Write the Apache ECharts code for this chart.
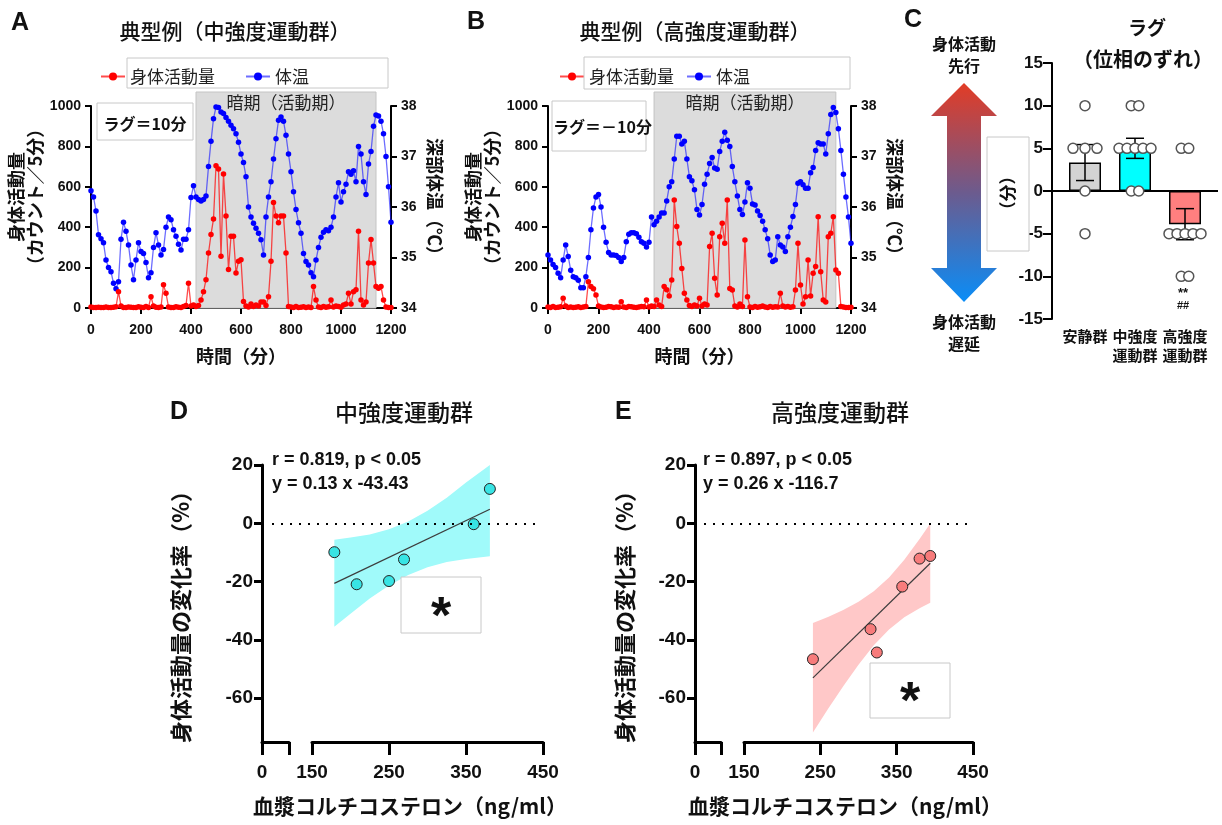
<!DOCTYPE html>
<html>
<head>
<meta charset="utf-8">
<script src="https://cdn.jsdelivr.net/npm/echarts@6/dist/echarts.min.js"></script>
<style>
html, body { margin: 0; padding: 0; background: #fff; }
#chart { width: 1222px; height: 825px; }
</style>
</head>
<body>
<div id="chart"></div>
<script>
// sampling grid of the activity / temperature recordings (minutes)
const timeMin = Array.from({ length: 121 }, (_, i) => i * 10)

// panel A: moderate-intensity example
const actA = [
  5, 3, 2, 4, 3, 2, 5, 3, 2, 4,
  6, 80, 10, 3, 2, 5, 4, 2, 3, 6,
  4, 2, 8, 3, 56, 10, 4, 2, 5, 115,
  73, 5, 3, 2, 6, 4, 3, 8, 12, 123,
  10, 15, 8, 12, 40, 80, 140, 272, 364, 440,
  704, 688, 256, 663, 455, 190, 355, 355, 173, 231,
  239, 32, 10, 5, 20, 8, 15, 10, 30, 30,
  12, 56, 231, 522, 455, 422, 455, 455, 272, 7,
  5, 3, 8, 2, 4, 6, 3, 5, 2, 106,
  40, 5, 3, 8, 4, 6, 40, 5, 10, 8,
  4, 15, 20, 73, 20, 81, 90, 380, 40, 15,
  30, 223, 339, 223, 106, 98, 106, 40, 5, 3, 2
]
const tempA = [
  36.32, 36.2, 35.92, 35.45, 35.37, 35.29, 34.95, 34.8, 34.72, 34.49,
  34.38, 34.52, 35.36, 35.7, 35.52, 35.25, 34.85, 34.56, 34.95, 35.29,
  35.12, 35.08, 34.9, 34.6, 34.7, 35.2, 35.49, 35.25, 35.05, 35.16,
  35.6, 35.8, 35.75, 35.55, 35.42, 35.26, 35.15, 35.36, 35.36, 35.55,
  36.19, 36.42, 36.2, 36.15, 36.12, 36.15, 36.22, 36.8, 37.3, 37.75,
  37.98, 37.97, 37.88, 37.85, 37.77, 37.7, 37.62, 37.55, 37.45, 37.28,
  37.05, 36.88, 36.6, 36.0, 35.8, 35.68, 35.58, 35.48, 35.35, 35.05,
  35.8, 36.2, 36.5, 36.95, 37.35, 37.72, 37.78, 37.7, 37.42, 37.05,
  36.7, 36.3, 35.95, 35.69, 35.48, 35.08, 34.92, 34.85, 34.7, 34.62,
  34.95, 35.2, 35.4, 35.5, 35.55, 35.53, 35.6, 35.8, 36.2, 36.48,
  36.1, 36.3, 36.45, 36.7, 36.65, 36.72, 36.5, 37.2, 37.05, 36.5,
  36.25, 36.85, 37.1, 37.6, 37.82, 37.8, 37.7, 37.45, 37.0, 36.4, 35.7
]

// panel B: high-intensity example
const actB = [
  5, 3, 8, 2, 4, 6, 48, 10, 3, 5,
  2, 4, 6, 3, 5, 8, 130, 106, 95, 64,
  10, 5, 3, 4, 8, 6, 3, 5, 4, 31,
  5, 3, 8, 6, 4, 3, 5, 8, 6, 40,
  5, 10, 8, 40, 15, 8, 106, 90, 60, 139,
  535, 403, 320, 196, 73, 40, 12, 8, 15, 10,
  48, 10, 20, 15, 304, 370, 147, 64, 353, 419,
  320, 535, 97, 89, 10, 5, 20, 8, 337, 56,
  5, 3, 8, 4, 6, 10, 5, 3, 8, 4,
  6, 5, 73, 10, 5, 8, 4, 6, 89, 320,
  114, 20, 56, 238, 60, 172, 205, 452, 180, 40,
  30, 353, 370, 452, 188, 172, 7, 5, 3, 2, 4
]
const tempB = [
  35.05, 34.95, 34.86, 34.8, 34.69, 34.6, 34.95, 35.25, 35.02, 34.75,
  34.62, 34.6, 34.55, 34.4, 34.4, 34.62, 35.0, 35.55, 35.98, 36.2,
  36.25, 36.0, 35.6, 35.3, 35.1, 35.05, 35.05, 35.04, 35.0, 34.92,
  35.0, 35.31, 35.46, 35.49, 35.49, 35.47, 35.4, 35.31, 35.28, 35.21,
  35.3, 35.8, 35.65, 35.72, 35.8, 35.88, 35.88, 36.12, 36.4, 36.5,
  36.95, 37.4, 37.4, 37.25, 37.3, 36.95, 36.6, 36.52, 36.34, 35.95,
  35.84, 36.05, 36.45, 36.65, 36.86, 36.98, 36.77, 36.75, 37.1, 37.3,
  37.48, 37.32, 37.2, 36.8, 36.5, 36.22, 35.95, 35.85, 36.1, 36.48,
  36.37, 36.06, 36.04, 35.92, 35.83, 35.72, 35.55, 35.37, 35.05, 34.92,
  34.95, 35.41, 35.25, 35.21, 35.12, 35.41, 35.6, 35.81, 36.05, 36.47,
  36.5, 36.44, 36.37, 36.37, 36.68, 36.78, 37.12, 37.27, 37.25, 37.25,
  37.05, 37.45, 37.83, 37.97, 37.87, 37.55, 37.12, 36.65, 36.2, 35.8, 35.28
]
const darkPhase = [420, 1140]

// panel C: lag per animal (minutes)
const lagGroups = ['安静群', '中強度\n運動群', '高強度\n運動群']
const lagRest = [10, 5, 5, 5, 0, -5]
const lagMid = [10, 10, 5, 5, 5, 5, 5, 0, 0]
const lagHigh = [5, 5, -5, -5, -5, -5, -5, -10, -10]
const lagColors = ['#d3d3d3', '#00ffff', '#ff7f7f']

// panels D / E: corticosterone vs change in activity
const cortMid = [179, 208, 250, 269.5, 360, 381]
const chgMid = [-9.9, -20.9, -19.8, -12.4, -0.3, 11.8]
const fitMidX = [179, 381]
const fitMidY = [-20.6, 4.8]
const bandMidX = [179, 200, 225, 250, 275, 300, 325, 350, 381]
const bandMidLo = [-35.5, -31.0, -25.8, -21.3, -17.7, -15.1, -13.3, -12.2, -11.3]
const bandMidHi = [-5.6, -4.9, -3.8, -2.0, 0.6, 4.3, 8.8, 14.0, 20]

const cortHigh = [240.3, 315.8, 324, 357.3, 380, 394]
const chgHigh = [-46.6, -36.3, -44.3, -21.7, -12.1, -11.2]
const fitHighX = [240.3, 394]
const fitHighY = [-53.0, -13.7]
const bandHighX = [240.3, 260, 280, 300, 320, 340, 360, 380, 394]
const bandHighLo = [-71.7, -63.7, -55.9, -48.5, -41.8, -36.4, -32.2, -29.1, -27.2]
const bandHighHi = [-34.2, -32.1, -29.7, -26.9, -23.3, -18.6, -12.5, -5.4, -0.1]

const NUM = '"Liberation Sans", "Noto Sans CJK JP", sans-serif'
const JP = '"Noto Sans CJK JP", sans-serif'

function meanSem (v) {
  const n = v.length
  const m = v.reduce((a, b) => a + b, 0) / n
  const sd = Math.sqrt(v.reduce((a, b) => a + (b - m) * (b - m), 0) / (n - 1))
  return [m, sd / Math.sqrt(n)]
}

// spread identical values side by side
function swarm (values, group) {
  const counts = {}
  values.forEach(v => { counts[v] = (counts[v] || 0) + 1 })
  const seen = {}
  return values.map(v => {
    const n = counts[v]
    const k = seen[v] || 0
    seen[v] = k + 1
    const step = n >= 5 ? 0.16 : n === 3 ? 0.24 : 0.15
    return [group + (k - (n - 1) / 2) * step, v]
  })
}

const lagStats = [lagRest, lagMid, lagHigh].map(meanSem)
const lagDots = [].concat(swarm(lagRest, 0), swarm(lagMid, 1), swarm(lagHigh, 2))

const blk = '#000'
const plain = v => String(v)
function lineAxis (w) {
  return { show: true, onZero: false, lineStyle: { color: blk, width: w } }
}
function tick (len, w, extra) {
  return Object.assign({ show: true, length: len, lineStyle: { color: blk, width: w } }, extra || {})
}
function lbl (size, margin, extra) {
  return Object.assign({ fontSize: size, fontWeight: 'bold', color: '#111', fontFamily: NUM, margin: margin, formatter: plain }, extra || {})
}
function nameStyle (size, extra) {
  return Object.assign({ fontSize: size, fontWeight: 'bold', color: '#111', fontFamily: JP }, extra || {})
}

function timeAxis (grid) {
  return {
    gridIndex: grid, type: 'value', min: 0, max: 1200, interval: 200,
    axisLine: lineAxis(2), axisTick: tick(6, 2), axisLabel: lbl(14, 15), splitLine: { show: false },
    name: '時間（分）', nameLocation: 'middle', nameGap: 39, nameTextStyle: nameStyle(18)
  }
}
function actAxis (grid) {
  return {
    gridIndex: grid, type: 'value', min: 0, max: 1000, interval: 200, position: 'left',
    axisLine: lineAxis(2), axisTick: tick(6, 2), axisLabel: lbl(14, 10), splitLine: { show: false },
    name: '身体活動量\n（カウント／5分）', nameLocation: 'middle', nameRotate: 90, nameGap: 46,
    nameTextStyle: nameStyle(18, { lineHeight: 19, padding: [0, 0, 0, 20] })
  }
}
function tempAxis (grid) {
  return {
    gridIndex: grid, type: 'value', min: 34, max: 38, interval: 1, position: 'right',
    axisLine: lineAxis(2), axisTick: tick(6, 2), axisLabel: lbl(14, 10), splitLine: { show: false },
    name: '深部体温（℃）', nameLocation: 'middle', nameRotate: -90, nameGap: 35,
    nameTextStyle: nameStyle(18, { padding: [0, 12, 0, 0] })
  }
}

function traceSeries (name, values, xi, yi, color, lineColor, withShade) {
  const s = {
    type: 'line', name: name, xAxisIndex: xi, yAxisIndex: yi,
    data: timeMin.map((t, i) => [t, values[i]]),
    symbol: 'circle', symbolSize: 5.5,
    itemStyle: { color: color },
    lineStyle: { color: lineColor, width: 1.3 },
    z: name === '身体活動量' ? 4 : 3
  }
  if (withShade) {
    s.markArea = {
      silent: true,
      itemStyle: { color: '#dcdcdc', borderColor: '#c4c4c4', borderWidth: 1 },
      label: { show: true, position: 'insideTop', distance: 3, color: '#222', fontSize: 17, fontFamily: JP },
      data: [[{ name: '暗期（活動期）', xAxis: darkPhase[0], y: 92 }, { xAxis: darkPhase[1], yAxis: 34 }]]
    }
  }
  return s
}

function bandSeries (xs, lo, hi, color, xi, yi) {
  return {
    type: 'custom', xAxisIndex: xi, yAxisIndex: yi, silent: true, z: 1,
    data: xs.map((x, i) => [x, lo[i], hi[i]]),
    encode: { x: 0, y: [1, 2] },
    renderItem: (params, api) => {
      if (params.dataIndex !== 0) return null
      const pts = []
      xs.forEach((x, i) => pts.push(api.coord([x, hi[i]])))
      for (let i = xs.length - 1; i >= 0; i--) pts.push(api.coord([xs[i], lo[i]]))
      return { type: 'polygon', shape: { points: pts }, style: { fill: color } }
    }
  }
}

function corrAxes (g0, g1, nameShift) {
  const yTicks = [-60, -40, -20, 0, 20]
  return {
    x: [
      {
        gridIndex: g0, type: 'value', min: 0, max: 35,
        axisLine: lineAxis(3), axisTick: tick(13, 3, { customValues: [0, 35] }),
        axisLabel: lbl(19, 21, { customValues: [0] }), splitLine: { show: false }
      },
      {
        gridIndex: g1, type: 'value', min: 150, max: 450, interval: 100,
        axisLine: lineAxis(3), axisTick: tick(13, 3), axisLabel: lbl(19, 21), splitLine: { show: false },
        name: '血漿コルチコステロン（ng/ml）', nameLocation: 'middle', nameGap: 54,
        nameTextStyle: nameStyle(21, { padding: [0, nameShift, 0, 0] })
      }
    ],
    y: [
      {
        gridIndex: g0, type: 'value', min: -75, max: 20,
        axisLine: lineAxis(3), axisTick: tick(8, 3, { customValues: yTicks }),
        axisLabel: lbl(19, 9, { customValues: yTicks }), splitLine: { show: false },
        name: '身体活動量の変化率（%）', nameLocation: 'middle', nameRotate: 90, nameGap: 0,
        nameTextStyle: nameStyle(22, { padding: [0, 16, 0, 0] })
      },
      { gridIndex: g1, type: 'value', min: -75, max: 20, show: false }
    ]
  }
}
const axD = corrAxes(3, 4, 35)
const axE = corrAxes(5, 6, 27)
axD.y[0].nameGap = 70
axE.y[0].nameGap = 59

function corrSeries (xs, ys, fx, fy, bx, blo, bhi, bandColor, dotColor, xi, yi, zeroFrom, zeroTo) {
  return [
    bandSeries(bx, blo, bhi, bandColor, xi, yi),
    {
      type: 'line', xAxisIndex: xi, yAxisIndex: yi, silent: true, z: 2,
      data: fx.map((x, i) => [x, fy[i]]), symbol: 'none',
      lineStyle: { color: '#3c3c3c', width: 1.2 }
    },
    {
      type: 'scatter', xAxisIndex: xi, yAxisIndex: yi, z: 4,
      data: xs.map((x, i) => [x, ys[i]]), symbolSize: 11,
      itemStyle: { color: dotColor, borderColor: '#222', borderWidth: 1, opacity: 1 },
      markLine: {
        silent: true, symbol: 'none', label: { show: false },
        lineStyle: { color: blk, width: 2, type: [2, 7] },
        data: [[{ x: zeroFrom, yAxis: 0 }, { x: zeroTo, yAxis: 0 }]]
      }
    }
  ]
}

const txt = (text, x, y, size, opt) => Object.assign({
  type: 'text', x: x, y: y, z: 100,
  style: Object.assign({
    text: text, fill: '#111', fontSize: size, fontFamily: JP,
    align: 'center', verticalAlign: 'middle', textAlign: 'center', textVerticalAlign: 'middle'
  }, (opt && opt.style) || {})
}, (opt && opt.el) || {})
const box = (x, y, w, h, fill) => ({
  type: 'rect', z: 99, shape: { x: x, y: y, width: w, height: h },
  style: { fill: fill || 'none', stroke: '#c8c8c8', lineWidth: 1 }
})
const bold = { style: { fontWeight: 'bold' } }
const medium = { style: { fontWeight: 500 } }
const letter = (t, x, y) => txt(t, x, y, 25, { style: { fontWeight: 'bold', fontFamily: NUM, align: 'left', textAlign: 'left' } })
const statTxt = (t, x, y) => txt(t, x, y, 18, { style: { fontWeight: 'bold', fontFamily: NUM, align: 'left', textAlign: 'left' } })

const option = {
  animation: false,
  textStyle: { fontFamily: NUM },
  grid: [
    { left: 91, top: 106, width: 300, height: 202 },
    { left: 548, top: 106, width: 303, height: 202 },
    { left: 1060, top: 63, width: 150, height: 256 },
    { left: 262, top: 465, width: 27, height: 277 },
    { left: 312, top: 465, width: 231, height: 277 },
    { left: 695, top: 465, width: 26, height: 277 },
    { left: 744, top: 465, width: 229, height: 277 }
  ],
  legend: [
    {
      left: 95, top: 63, itemWidth: 24, itemHeight: 10, itemGap: 30, selectedMode: false,
      data: ['身体活動量', '体温'], textStyle: { fontSize: 17, color: '#222', fontFamily: JP }
    },
    {
      left: 554, top: 63, itemWidth: 24, itemHeight: 10, itemGap: 12, selectedMode: false,
      data: ['身体活動量', '体温'], textStyle: { fontSize: 17, color: '#222', fontFamily: JP }
    }
  ],
  xAxis: [
    timeAxis(0),
    timeAxis(1),
    {
      gridIndex: 2, type: 'category', data: lagGroups,
      axisLine: { show: false, onZero: false }, axisTick: { show: false },
      axisLabel: { fontSize: 15, fontWeight: 'bold', color: '#111', fontFamily: JP, margin: 8, lineHeight: 19, interval: 0 }
    },
    { gridIndex: 2, type: 'value', min: -0.5, max: 2.5, show: false },
    axD.x[0], axD.x[1], axE.x[0], axE.x[1]
  ],
  yAxis: [
    actAxis(0), tempAxis(0), actAxis(1), tempAxis(1),
    {
      gridIndex: 2, type: 'value', min: -15, max: 15, interval: 5, offset: 8,
      axisLine: lineAxis(2), axisTick: tick(9, 2), axisLabel: lbl(17, 9), splitLine: { show: false }
    },
    axD.y[0], axD.y[1], axE.y[0], axE.y[1]
  ],
  series: [
    traceSeries('体温', tempA, 0, 1, '#0000ff', 'rgba(30,30,255,0.65)', true),
    traceSeries('身体活動量', actA, 0, 0, '#ff0000', 'rgba(255,0,0,0.7)', false),
    traceSeries('体温', tempB, 1, 3, '#0000ff', 'rgba(30,30,255,0.65)', true),
    traceSeries('身体活動量', actB, 1, 2, '#ff0000', 'rgba(255,0,0,0.7)', false),
    {
      type: 'bar', xAxisIndex: 2, yAxisIndex: 4, barWidth: 32, z: 2,
      data: lagStats.map((s, i) => ({ value: s[0], itemStyle: { color: lagColors[i] } })),
      itemStyle: { borderColor: blk, borderWidth: 1.5 }
    },
    {
      type: 'custom', xAxisIndex: 3, yAxisIndex: 4, z: 3,
      data: lagStats.map((s, i) => [i, s[0] - s[1], s[0] + s[1]]),
      encode: { x: 0, y: [1, 2] },
      renderItem: (params, api) => {
        const x = api.value(0)
        const pLo = api.coord([x, api.value(1)])
        const pHi = api.coord([x, api.value(2)])
        const st = { stroke: blk, lineWidth: 1.5 }
        const cap = 9
        return {
          type: 'group',
          children: [
            { type: 'line', shape: { x1: pLo[0], y1: pLo[1], x2: pHi[0], y2: pHi[1] }, style: st },
            { type: 'line', shape: { x1: pLo[0] - cap, y1: pLo[1], x2: pLo[0] + cap, y2: pLo[1] }, style: st },
            { type: 'line', shape: { x1: pHi[0] - cap, y1: pHi[1], x2: pHi[0] + cap, y2: pHi[1] }, style: st }
          ]
        }
      }
    },
    {
      type: 'scatter', xAxisIndex: 3, yAxisIndex: 4, z: 5, data: lagDots, symbolSize: 10,
      itemStyle: { color: '#fff', borderColor: '#555', borderWidth: 1.5, opacity: 1 },
      markLine: {
        silent: true, symbol: 'none', label: { show: false },
        lineStyle: { color: blk, width: 2, type: 'solid' },
        data: [[{ x: 1052, yAxis: 0 }, { x: 1218, yAxis: 0 }]]
      }
    }
  ]
    .concat(corrSeries(cortMid, chgMid, fitMidX, fitMidY, bandMidX, bandMidLo, bandMidHi, '#a0fafa', '#38e4e4', 5, 6, 272, 541))
    .concat(corrSeries(cortHigh, chgHigh, fitHighX, fitHighY, bandHighX, bandHighLo, bandHighHi, '#ffc8c8', '#f77b7b', 7, 8, 704, 971)),
  graphic: [
    letter('A', 11, 23), letter('B', 467, 22), letter('C', 904, 20), letter('D', 170, 412), letter('E', 615, 412),
    txt('典型例（中強度運動群）', 235, 31, 21, medium),
    txt('典型例（高強度運動群）', 695, 31, 21, medium),
    box(127, 58, 261, 30), box(584, 57, 266, 32),
    box(97, 103, 96, 37, '#fff'), txt('ラグ＝10分', 145, 124, 16, bold),
    box(552, 101, 94, 50, '#fff'),
    txt('ラグ＝－10分', 553, 127, 16, { style: { fontWeight: 'bold', align: 'left', textAlign: 'left' } }),
    txt('ラグ', 1147, 28, 19, bold), txt('（位相のずれ）', 1143, 59, 20, bold),
    {
      type: 'polygon', z: 98,
      shape: { points: [[964, 83], [997, 116], [981, 116], [981, 268], [997, 268], [964, 302], [931, 268], [947, 268], [947, 116], [931, 116]] },
      style: {
        fill: {
          type: 'linear', x: 0, y: 0, x2: 0, y2: 1,
          colorStops: [{ offset: 0, color: '#e23c26' }, { offset: 0.5, color: '#6c5b8e' }, { offset: 1, color: '#0a8df7' }]
        }
      }
    },
    txt('身体活動', 964, 44, 16, bold), txt('先行', 964, 66, 16, bold),
    txt('身体活動', 964, 322, 16, bold), txt('遅延', 964, 344, 16, bold),
    box(987, 137, 42, 114, '#fff'),
    txt('（分）', 1008, 193, 17, { style: { fontWeight: 'bold' }, el: { rotation: Math.PI / 2 } }),
    txt('**', 1183, 293, 13, { style: { fontWeight: 'bold', fontFamily: NUM } }),
    txt('##', 1183, 306, 11, { style: { fontWeight: 'bold', fontFamily: NUM } }),
    txt('中強度運動群', 404, 412, 23, medium), txt('高強度運動群', 840, 412, 23, medium),
    statTxt('r = 0.819, p < 0.05', 272, 460), statTxt('y = 0.13 x -43.43', 272, 484),
    statTxt('r = 0.897, p < 0.05', 703, 460), statTxt('y = 0.26 x -116.7', 703, 484),
    box(401, 577, 80, 56, '#fff'), txt('*', 441, 619, 52, { style: { fontWeight: 'bold', fontFamily: NUM } }),
    box(870, 663, 80, 55, '#fff'), txt('*', 910, 704, 52, { style: { fontWeight: 'bold', fontFamily: NUM } })
  ]
}

const chart = echarts.init(document.getElementById('chart'))
chart.setOption(option)
</script>
</body>
</html>
